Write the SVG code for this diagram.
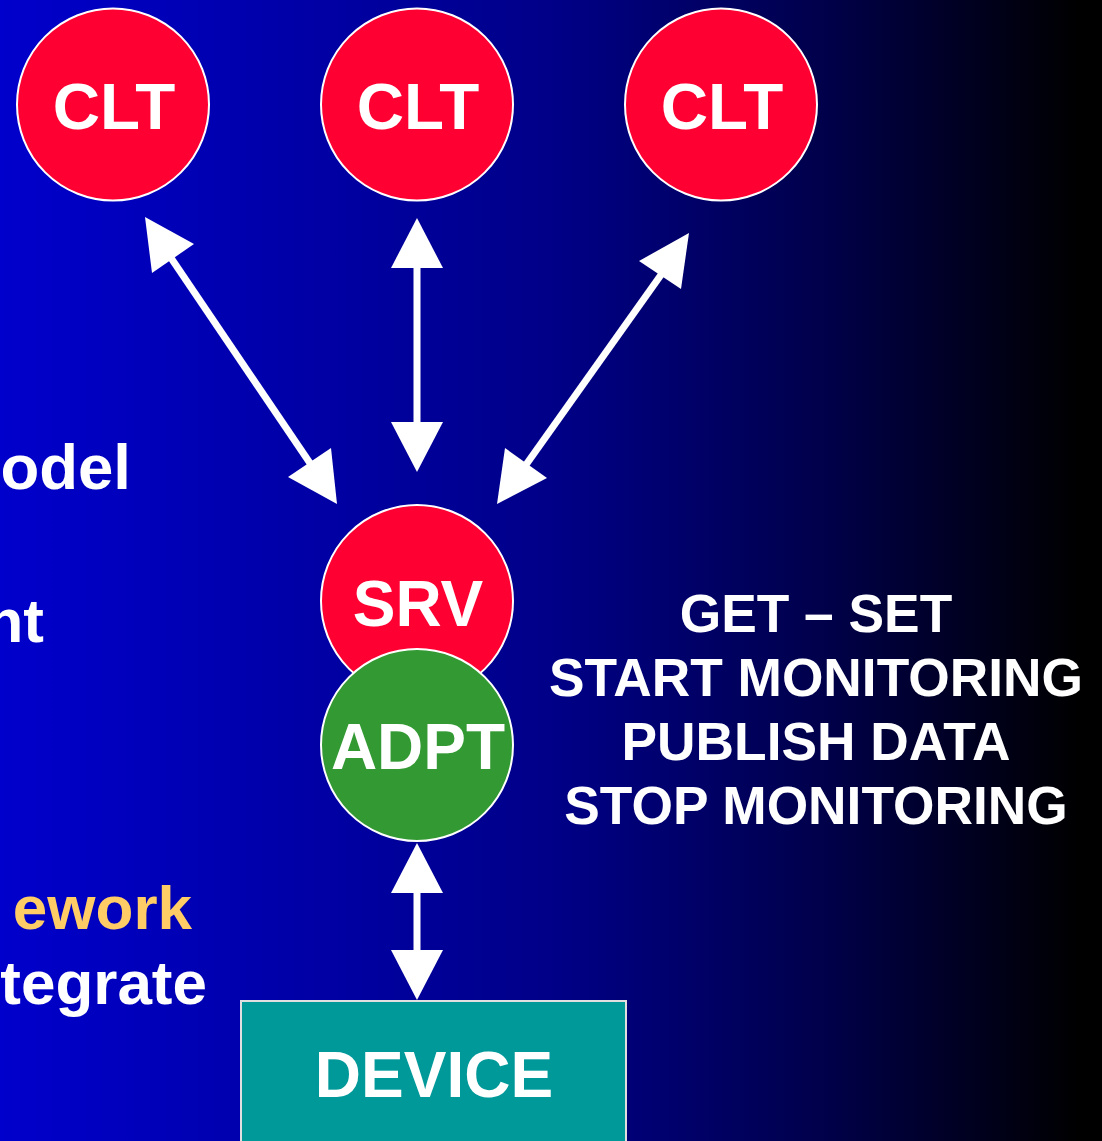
<svg xmlns="http://www.w3.org/2000/svg" width="1102" height="1141" viewBox="0 0 1102 1141">
<defs>
<linearGradient id="bg" x1="0" y1="0" x2="1" y2="0">
<stop offset="0" stop-color="#0000CC"/>
<stop offset="0.5" stop-color="#000088"/>
<stop offset="0.75" stop-color="#00004A"/>
<stop offset="0.98" stop-color="#000000"/>
</linearGradient>
<style>
.red{fill:#FF0033;stroke:#FFFFFF;stroke-width:2}
.green{fill:#339933;stroke:#FFFFFF;stroke-width:2}
.dev{fill:#009999;stroke:#E0E0E0;stroke-width:2}
.lbl{font-family:"Liberation Sans",Arial,sans-serif;font-weight:bold;fill:#FFFFFF;text-anchor:middle;font-size:64px}
.side{font-family:"Liberation Sans",Arial,sans-serif;font-weight:bold;fill:#FFFFFF;text-anchor:end;font-size:62px}
.cmd{font-family:"Liberation Sans",Arial,sans-serif;font-weight:bold;fill:#FFFFFF;text-anchor:middle;font-size:53.3px}
.ln{stroke:#FFFFFF;stroke-width:7;fill:none}
.hd{fill:#FFFFFF}
</style>
</defs>
<rect x="0" y="0" width="1102" height="1141" fill="url(#bg)"/>
<g id="side-text">
<text class="side" x="131" y="489" style="font-size:63.5px">odel</text>
<text class="side" x="44" y="642">nt</text>
<text class="side" x="192" y="929" style="fill:#FFCC66">ework</text>
<text class="side" x="207" y="1004">tegrate</text>
</g>
<g id="connectors">
<line class="ln" x1="167" y1="252" x2="316" y2="472"/>
<polygon class="hd" points="145,217 194,244 152,273"/>
<polygon class="hd" points="337,504 288,477 331,448"/>
<line class="ln" x1="417" y1="262" x2="417" y2="428"/>
<polygon class="hd" points="417,218 443,268 391,268"/>
<polygon class="hd" points="417,472 443,422 391,422"/>
<line class="ln" x1="668" y1="265" x2="518" y2="476"/>
<polygon class="hd" points="689,233 639,261 681,289"/>
<polygon class="hd" points="497,504 505,448 547,478"/>
<line class="ln" x1="417" y1="886" x2="417" y2="956"/>
<polygon class="hd" points="417,843 443,893 391,893"/>
<polygon class="hd" points="417,1000 443,950 391,950"/>
</g>
<g id="clt1">
<circle class="red" cx="113" cy="104.5" r="96"/>
<text class="lbl" x="114" y="129" style="font-size:65.5px">CLT</text>
</g>
<g id="clt2">
<circle class="red" cx="417" cy="104.5" r="96"/>
<text class="lbl" x="418" y="129" style="font-size:65.5px">CLT</text>
</g>
<g id="clt3">
<circle class="red" cx="721" cy="104.5" r="96"/>
<text class="lbl" x="722" y="129" style="font-size:65.5px">CLT</text>
</g>
<g id="srv">
<circle class="red" cx="417" cy="601" r="96"/>
<text class="lbl" x="418" y="626">SRV</text>
</g>
<g id="adpt">
<circle class="green" cx="417" cy="745" r="96"/>
<text class="lbl" x="418" y="769">ADPT</text>
</g>
<g id="device">
<rect class="dev" x="241" y="1001" width="385" height="150"/>
<text class="lbl" x="434" y="1097">DEVICE</text>
</g>
<g id="commands">
<text class="cmd" x="816" y="632">GET – SET</text>
<text class="cmd" x="816" y="696">START MONITORING</text>
<text class="cmd" x="816" y="760">PUBLISH DATA</text>
<text class="cmd" x="816" y="824">STOP MONITORING</text>
</g>
</svg>
